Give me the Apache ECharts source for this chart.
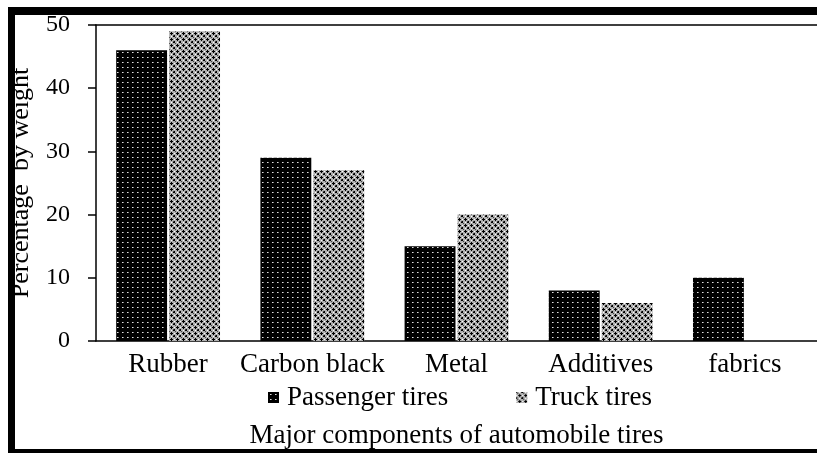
<!DOCTYPE html>
<html>
<head>
<meta charset="utf-8">
<script src="https://cdn.jsdelivr.net/npm/echarts@6/dist/echarts.min.js"></script>
<style>
html,body{margin:0;padding:0;background:#fff;}
#chart{width:817px;height:453px;}
</style>
</head>
<body>
<div id="chart"></div>
<script>
var categories = ['Rubber', 'Carbon black', 'Metal', 'Additives', 'fabrics'];
var passengerTires = [46, 29, 15, 8, 10];
var truckTires = [49, 27, 20, 6, null];
var seriesNames = ['Passenger tires', 'Truck tires'];
var yTicks = [0, 10, 20, 30, 40, 50];

function makePassengerPattern() {
  var c = document.createElement('canvas');
  c.width = 5; c.height = 5;
  var g = c.getContext('2d');
  g.fillStyle = '#000';
  g.fillRect(0, 0, 5, 5);
  g.fillStyle = '#e0e0e0';
  g.fillRect(2, 2, 1, 1);
  g.fillStyle = '#808080';
  g.fillRect(3, 2, 1, 1);
  return c;
}
function makeTruckPattern() {
  var c = document.createElement('canvas');
  c.width = 6; c.height = 6;
  var g = c.getContext('2d');
  g.fillStyle = '#b0b0b0';
  g.fillRect(0, 0, 6, 6);
  g.fillStyle = '#000';
  g.fillRect(2, 3, 3, 1);
  g.fillRect(3, 2, 1, 3);
  g.fillRect(0, 0, 1, 1);
  g.fillRect(5, 0, 1, 1);
  g.fillRect(0, 5, 1, 1);
  g.fillStyle = '#fff';
  g.fillRect(0, 3, 1, 1);
  g.fillRect(3, 0, 1, 1);
  g.fillStyle = '#444';
  g.fillRect(1, 1, 1, 1);
  g.fillRect(5, 5, 1, 1);
  return c;
}

var font = 'Liberation Serif';
var chart = echarts.init(document.getElementById('chart'), null, {renderer: 'canvas'});
var option = {
  backgroundColor: '#fff',
  animation: false,
  grid: {left: 96, top: 25, right: 0, bottom: 112, containLabel: false, outerBoundsMode: 'none'},
  legend: {
    data: seriesNames,
    left: 268,
    top: 384,
    itemWidth: 11,
    itemHeight: 11,
    itemGap: 68,
    icon: 'rect',
    padding: 0,
    textStyle: {fontFamily: font, fontSize: 27, color: '#000', padding: [0, 0, 0, 3]}
  },
  xAxis: [{
    type: 'category',
    data: categories,
    position: 'bottom',
    axisLine: {show: true, lineStyle: {color: '#000', width: 1.5}},
    axisTick: {show: false},
    axisLabel: {fontFamily: font, fontSize: 27, color: '#000', margin: 10, interval: 0},
    name: 'Major components of automobile tires',
    nameLocation: 'middle',
    nameGap: 81,
    nameTextStyle: {fontFamily: font, fontSize: 27, color: '#000'}
  }, {
    type: 'category',
    data: categories,
    position: 'top',
    axisLine: {show: true, lineStyle: {color: '#000', width: 1.5}},
    axisTick: {show: false},
    axisLabel: {show: false}
  }],
  yAxis: {
    type: 'value',
    min: 0, max: 50, interval: 10,
    axisLine: {show: true, lineStyle: {color: '#000', width: 1.5}},
    axisTick: {show: true, inside: false, length: 8, lineStyle: {color: '#000', width: 1.5}},
    axisLabel: {fontFamily: font, fontSize: 24, color: '#000', margin: 26,
      formatter: function (v) { return yTicks.indexOf(v) >= 0 ? String(v) : ''; }},
    splitLine: {show: false},
    name: 'Percentage  by weight',
    nameLocation: 'middle',
    nameGap: 62,
    nameTextStyle: {fontFamily: font, fontSize: 26, color: '#000'}
  },
  series: [{
    name: seriesNames[0],
    type: 'bar',
    data: passengerTires,
    barGap: '4%',
    barCategoryGap: '28%',
    itemStyle: {color: {image: makePassengerPattern(), repeat: 'repeat'}}
  }, {
    name: seriesNames[1],
    type: 'bar',
    data: truckTires,
    itemStyle: {color: {image: makeTruckPattern(), repeat: 'repeat'}}
  }],
  graphic: [
    {type: 'rect', shape: {x: 8, y: 7, width: 7, height: 446}, style: {fill: '#000'}, z: 100},
    {type: 'rect', shape: {x: 8, y: 7, width: 809, height: 8}, style: {fill: '#000'}, z: 100},
    {type: 'rect', shape: {x: 8, y: 449, width: 809, height: 4}, style: {fill: '#000'}, z: 100}
  ]
};
chart.setOption(option);
</script>
</body>
</html>
